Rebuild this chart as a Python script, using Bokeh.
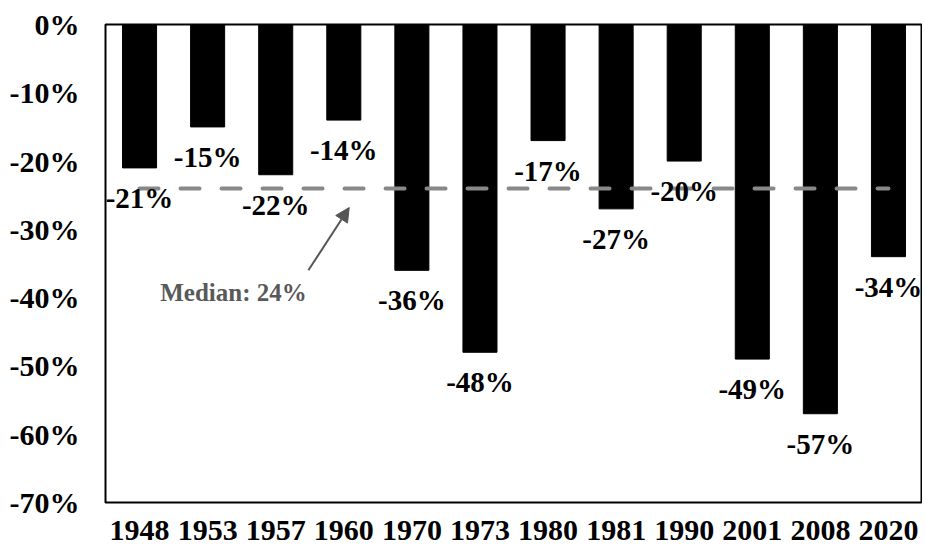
from bokeh.plotting import figure
from bokeh.models import FactorRange, Range1d, FixedTicker, PrintfTickFormatter, Arrow, NormalHead, Label, ColumnDataSource
from bokeh.core.properties import value
from bokeh.embed import file_html
from bokeh.resources import INLINE

years = ["1948", "1953", "1957", "1960", "1970", "1973", "1980", "1981", "1990", "2001", "2008", "2020"]
declines = [-21, -15, -22, -14, -36, -48, -17, -27, -20, -49, -57, -34]
labels = [f"{v}%" for v in declines]
median_value = -24
median_text = "Median: 24%"
y_ticks = [0, -10, -20, -30, -40, -50, -60, -70]

FONT = "Liberation Serif"

p = figure(x_range=FactorRange(*years), y_range=Range1d(-70, 0),
           width=922, height=548, output_backend="svg", toolbar_location=None,
           min_border_left=105, min_border_right=0, min_border_top=24, min_border_bottom=46)

src = ColumnDataSource(dict(x=years, top=[0] * len(years), bottom=declines, lab=labels))
p.vbar(x="x", top="top", bottom="bottom", width=0.5, source=src, fill_color="black", line_color="black")

p.line(x=[years[0], years[-1]], y=[median_value, median_value], line_color="#888888",
       line_width=4, line_dash="19 22", line_cap="round")

p.text(x="x", y="bottom", text="lab", source=src, y_offset=30, text_align="center",
       text_baseline="middle", text_font=value(FONT), text_font_style="bold",
       text_font_size="29px", text_color="black")

p.add_layout(Arrow(end=NormalHead(size=14, fill_color="#555555", line_color="#555555"),
                   x_start=2.98, y_start=-36.0, x_end=3.58, y_end=-26.8,
                   line_color="#555555", line_width=2))
p.add_layout(Label(x=1.88, y=-39.2, text=median_text, text_align="center", text_baseline="middle",
                   text_font=FONT, text_font_style="bold", text_font_size="25px", text_color="#595959"))

p.xgrid.grid_line_color = None
p.ygrid.grid_line_color = None
p.outline_line_color = "black"
p.outline_line_width = 2

p.yaxis.ticker = FixedTicker(ticks=y_ticks)
p.yaxis.formatter = PrintfTickFormatter(format="%d%%")
for ax in (p.xaxis[0], p.yaxis[0]):
    ax.axis_line_color = None
    ax.major_tick_line_color = None
    ax.minor_tick_line_color = None
    ax.major_label_text_font = FONT
    ax.major_label_text_font_style = "bold"
    ax.major_label_text_font_size = "30px"
    ax.major_label_text_color = "black"
p.yaxis.major_label_standoff = 20
p.xaxis.major_label_standoff = 12

open("out.html", "w").write(file_html(p, INLINE))
